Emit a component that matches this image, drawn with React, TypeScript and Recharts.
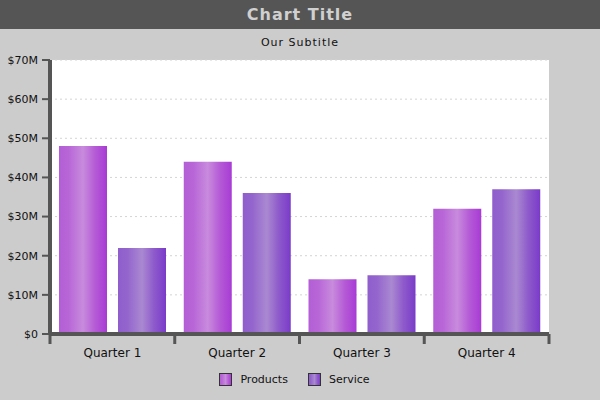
import React from 'react';
import { BarChart, Bar, XAxis, YAxis, CartesianGrid, Legend } from 'recharts';

const quarters = ['Quarter 1', 'Quarter 2', 'Quarter 3', 'Quarter 4'];
const products = [48, 44, 14, 32];
const service = [22, 36, 15, 37];
const yTicks = [0, 10, 20, 30, 40, 50, 60, 70];

const data = quarters.map((q, i) => ({ quarter: q, Products: products[i], Service: service[i] }));

const FONT = '"DejaVu Sans", "Liberation Sans", sans-serif';

// category label plus tick marks at the band edges
const QuarterTick = (props: any) => {
  const { x, y, payload, index, visibleTicksCount } = props;
  const half = payload.offset || 0;
  const top = y - 8;
  const last = index === visibleTicksCount - 1;
  return (
    <g>
      <line x1={x - half} x2={x - half} y1={top} y2={top + 10} stroke="#555555" strokeWidth={3} />
      {last && <line x1={x + half} x2={x + half} y1={top} y2={top + 10} stroke="#555555" strokeWidth={3} />}
      <text x={x} y={y + 15} textAnchor="middle" fontSize={12} fill="#111" fontFamily={FONT}>
        {payload.value}
      </text>
    </g>
  );
};

const LegendContent = () => {
  const items = [
    { name: 'Products', fill: 'url(#gradProducts)' },
    { name: 'Service', fill: 'url(#gradService)' },
  ];
  return (
    <div style={{ display: 'flex', justifyContent: 'center', alignItems: 'center', paddingLeft: 40, fontFamily: FONT, fontSize: 11, color: '#111' }}>
      {items.map((it, i) => (
        <div key={it.name} style={{ display: 'flex', alignItems: 'center', marginLeft: i ? 20 : 0 }}>
          <svg width={13} height={13} style={{ marginRight: 8 }}>
            <rect x={0.5} y={0.5} width={12} height={12} fill={it.fill} stroke="#333" strokeWidth={1} />
          </svg>
          <span>{it.name}</span>
        </div>
      ))}
    </div>
  );
};

export default function App() {
  return (
    <div style={{ position: 'absolute', left: 0, top: 0, width: 600, height: 400, background: '#cccccc', overflow: 'hidden' }}>
      <div style={{ height: 29, background: '#555555', color: '#d0d0d0', fontFamily: FONT, fontWeight: 'bold', fontSize: 16, letterSpacing: 1, textAlign: 'center', lineHeight: '29px' }}>
        Chart Title
      </div>
      <div style={{ position: 'absolute', top: 36, width: 600, textAlign: 'center', fontFamily: FONT, fontSize: 11, letterSpacing: 1, color: '#111' }}>
        Our Subtitle
      </div>
      <BarChart
        width={600}
        height={371}
        data={data}
        margin={{ top: 31, right: 51, left: 0, bottom: 7 }}
        barSize={48}
        barGap={11}
      >
        <defs>
          <linearGradient id="gradProducts" x1="0" y1="0" x2="1" y2="0">
            <stop offset="0" stopColor="#b35ed6" />
            <stop offset="0.2" stopColor="#b866d7" />
            <stop offset="0.5" stopColor="#c88bdd" />
            <stop offset="0.75" stopColor="#b55bd6" />
            <stop offset="1" stopColor="#a83bd5" />
          </linearGradient>
          <linearGradient id="gradService" x1="0" y1="0" x2="1" y2="0">
            <stop offset="0" stopColor="#8f5ecc" />
            <stop offset="0.2" stopColor="#9465cd" />
            <stop offset="0.5" stopColor="#aa89d1" />
            <stop offset="0.75" stopColor="#8e5acb" />
            <stop offset="1" stopColor="#7a3bc9" />
          </linearGradient>
        </defs>
        <CartesianGrid vertical={false} fill="#ffffff" stroke="#d4d4d4" strokeDasharray="2 3" />
        <XAxis
          dataKey="quarter"
          height={39}
          axisLine={{ stroke: '#555555', strokeWidth: 4 }}
          tickLine={false}
          tickSize={8}
          tickMargin={0}
          tick={<QuarterTick />}
        />
        <YAxis
          width={50}
          domain={[0, 70]}
          ticks={yTicks}
          interval={0}
          axisLine={{ stroke: '#555555', strokeWidth: 4 }}
          tickLine={{ stroke: '#555555', strokeWidth: 2 }}
          tickSize={8}
          tickMargin={4}
          tick={{ fontSize: 11, fill: '#111', fontFamily: FONT }}
          tickFormatter={(v: number) => (v === 0 ? '$0' : `$${v}M`)}
        />
        <Legend content={<LegendContent />} verticalAlign="bottom" height={20} />
        <Bar dataKey="Products" fill="url(#gradProducts)" isAnimationActive={false} />
        <Bar dataKey="Service" fill="url(#gradService)" isAnimationActive={false} />
      </BarChart>
    </div>
  );
}
